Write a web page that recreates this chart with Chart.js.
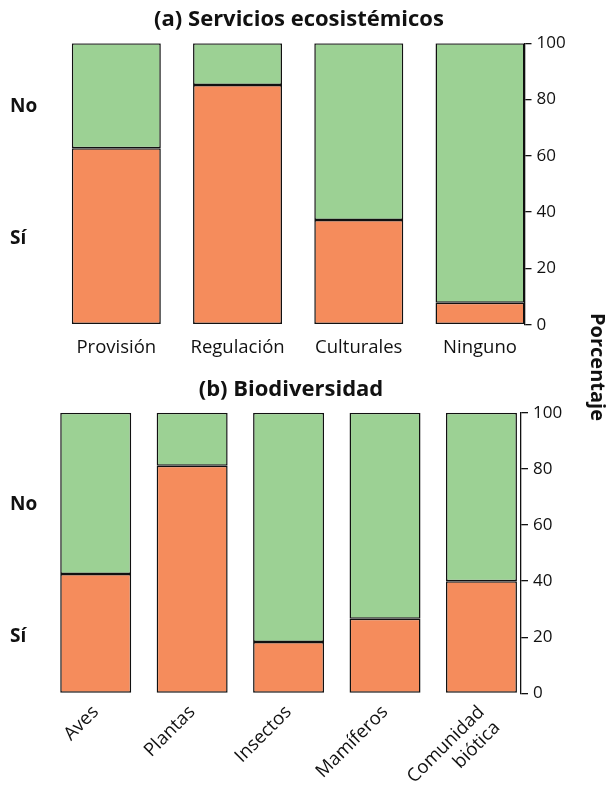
<!DOCTYPE html>
<html>
<head>
<meta charset="utf-8">
<script src="https://cdn.jsdelivr.net/npm/chart.js@4.4.1/dist/chart.umd.min.js"></script>
<style>
  body { margin: 0; background: #fff; width: 611px; height: 787px; position: relative; overflow: hidden; font-family: "Open Sans", sans-serif; color: #111; }
  canvas { position: absolute; left: 0; }
  #chartA { top: 0; }
  #chartB { top: 365px; }
  .side { position: absolute; left: 10px; font-weight: bold; font-size: 19px; line-height: 24px; }
  #ylab { position: absolute; left: 538px; top: 355px; width: 120px; text-align: center; font-weight: bold; font-size: 20px; line-height: 24px; transform: rotate(90deg); transform-origin: 60px 12px; }
</style>
</head>
<body>
<canvas id="chartA" width="598" height="365"></canvas>
<canvas id="chartB" width="582" height="422"></canvas>
<div class="side" style="top:93px">No</div>
<div class="side" style="top:225px">Sí</div>
<div class="side" style="top:491px">No</div>
<div class="side" style="top:623px">Sí</div>
<div id="ylab">Porcentaje</div>
<script>
const serviceLabels = ['Provisión', 'Regulación', 'Culturales', 'Ninguno'];
const serviceSi = [62.7, 85.2, 37.2, 7.8];
const serviceNo = [37.3, 14.8, 62.8, 92.2];

const bioLabels = ['Aves', 'Plantas', 'Insectos', 'Mamíferos', ['Comunidad', 'biótica']];
const bioSi = [42.5, 81.1, 18.3, 26.6, 39.9];
const bioNo = [57.5, 18.9, 81.7, 73.4, 60.1];

const yTicks = [0, 20, 40, 60, 80, 100];

const ORANGE = '#f58c5c';
const GREEN = '#9cd194';
const FONT = '"Open Sans", sans-serif';

function makePanel(id, title, labels, si, no, cfg) {
  const ctx = document.getElementById(id).getContext('2d');
  const points = arr => arr.map((v, i) => ({ x: i, y: v }));
  const barStyle = {
    borderColor: '#111',
    borderWidth: 1.5,
    borderSkipped: false,
    barPercentage: cfg.barPct,
    categoryPercentage: 1
  };

  return new Chart(ctx, {
    type: 'bar',
    data: {
      datasets: [
        { label: 'Sí', data: points(si), backgroundColor: ORANGE, ...barStyle },
        { label: 'No', data: points(no), backgroundColor: GREEN, ...barStyle }
      ]
    },
    options: {
      responsive: false,
      animation: false,
      layout: { padding: 0 },
      plugins: {
        legend: { display: false },
        tooltip: { enabled: false },
        title: {
          display: true,
          text: title,
          color: '#111',
          font: { family: FONT, size: 22, weight: 'bold', lineHeight: 1.2 },
          padding: cfg.titlePad
        }
      },
      scales: {
        x: {
          type: 'linear',
          stacked: true,
          offset: false,
          min: -0.5,
          max: cfg.xMax,
          grid: { display: false, drawTicks: false, offset: false },
          border: { display: false },
          afterBuildTicks: scale => { scale.ticks = labels.map((_, i) => ({ value: i })); },
          afterFit: scale => { scale.height = cfg.xHeight; },
          ticks: {
            autoSkip: false,
            minRotation: cfg.rotation,
            maxRotation: cfg.rotation,
            padding: cfg.xPad,
            color: '#111',
            font: { family: FONT, size: 18.5 },
            callback: v => labels[v]
          }
        },
        y: {
          stacked: true,
          position: 'right',
          min: 0,
          max: 100,
          afterBuildTicks: scale => { scale.ticks = yTicks.map(v => ({ value: v })); },
          afterFit: scale => { scale.width = cfg.yWidth; },
          grid: { drawOnChartArea: false, drawTicks: true, tickLength: 7, color: '#111', lineWidth: 1.3 },
          border: { display: true, color: '#111', width: 1.3 },
          ticks: {
            padding: 5,
            color: '#111',
            font: { family: FONT, size: 17 }
          }
        },
        // empty left axis that only reserves room for the "No" / "Sí" labels
        yLeft: {
          position: 'left',
          display: true,
          grid: { display: false, drawTicks: false },
          border: { display: false },
          ticks: { display: false },
          afterFit: scale => { scale.width = cfg.left; }
        }
      }
    }
  });
}

makePanel('chartA', '(a) Servicios ecosistémicos', serviceLabels, serviceSi, serviceNo, {
  left: 55.7, xMax: 3.367, barPct: 0.734, yWidth: 598 - 524.5, xHeight: 365 - 324.7,
  titlePad: { top: 6.8, bottom: 10.1 }, rotation: 0, xPad: 12
});

makePanel('chartB', '(b) Biodiversidad', bioLabels, bioSi, bioNo, {
  left: 47.5, xMax: 4.41, barPct: 0.736, yWidth: 582 - 521, xHeight: 422 - 328.3,
  titlePad: { top: 11.8, bottom: 9.5 }, rotation: 45, xPad: 8
});
</script>
</body>
</html>
